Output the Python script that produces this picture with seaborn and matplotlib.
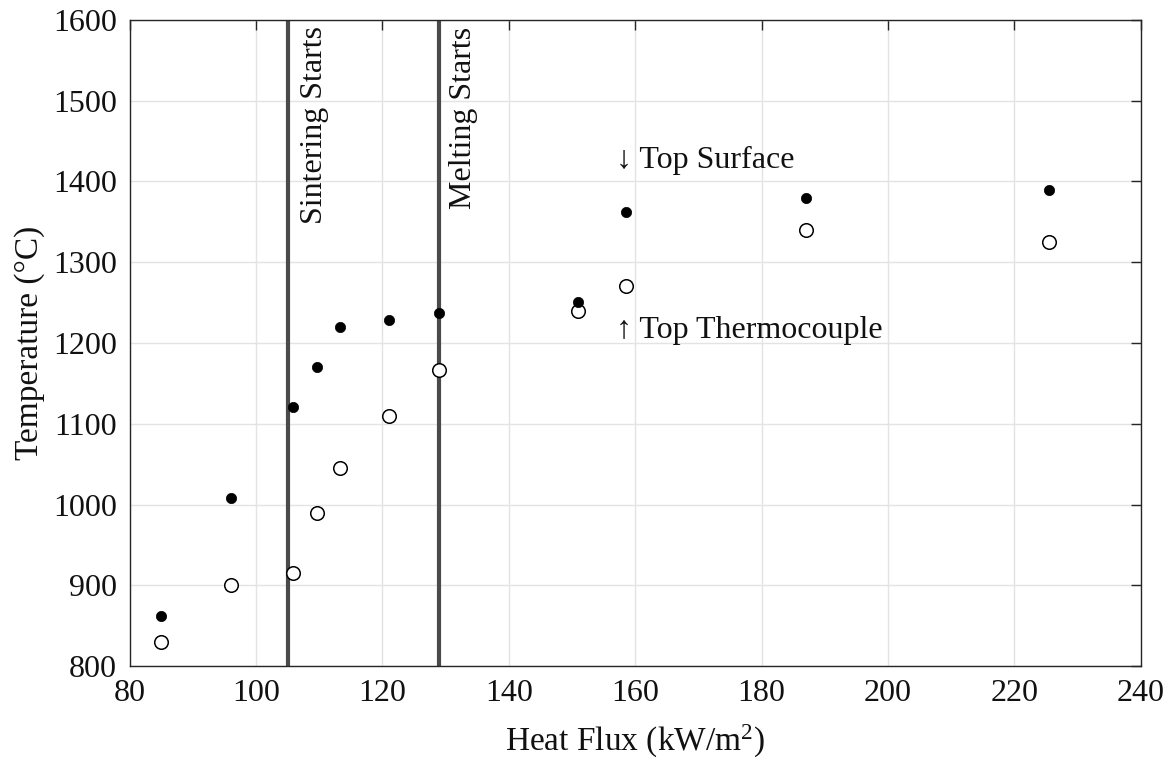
import matplotlib
matplotlib.use("Agg")
import matplotlib.pyplot as plt
import seaborn as sns
import pandas as pd

# Measured temperatures against applied heat flux
heat_flux = [85, 96, 105.8, 109.6, 113.3, 121.1, 129, 151, 158.6, 187, 225.5]
top_surface = [862, 1008, 1121, 1170, 1220, 1229, 1237, 1251, 1362, 1380, 1390]
top_thermocouple = [830, 900, 915, 990, 1045, 1109, 1166, 1240, 1271, 1340, 1325]

# Process thresholds (vertical markers)
sintering_flux = 105
melting_flux = 129

x_ticks = [80, 100, 120, 140, 160, 180, 200, 220, 240]
y_ticks = [800, 900, 1000, 1100, 1200, 1300, 1400, 1500, 1600]

sns.set_theme(style="white")
plt.rcParams["font.family"] = ["Liberation Serif", "DejaVu Serif"]
plt.rcParams["mathtext.fontset"] = "custom"
plt.rcParams["mathtext.rm"] = "Liberation Serif"
plt.rcParams["mathtext.it"] = "Liberation Serif:italic"

df = pd.DataFrame({"flux": heat_flux,
                   "surface": top_surface,
                   "thermo": top_thermocouple})

fig = plt.figure(figsize=(11.7, 7.66), dpi=100)
ax = fig.add_axes([0.1107, 0.1305, 0.8643, 0.8435])

ax.grid(True, color="#e3e3e3", linewidth=1.0, zorder=0)
ax.set_axisbelow(True)

for xv in (sintering_flux, melting_flux):
    ax.axvline(xv, color="#4a4a4a", linewidth=3.0, zorder=2)

sns.scatterplot(data=df, x="flux", y="surface", ax=ax, color="black",
                s=55, edgecolor="black", linewidth=0.5, zorder=4, legend=False)
sns.scatterplot(data=df, x="flux", y="thermo", ax=ax, facecolor="white",
                s=95, edgecolor="black", linewidth=1.1, zorder=3, legend=False)

ax.set_xlim(80, 240)
ax.set_ylim(800, 1600)
ax.set_xticks(x_ticks)
ax.set_yticks(y_ticks)
ax.tick_params(direction="in", length=7, width=1, colors="#262626",
               labelsize=23, top=True, right=True, pad=9,
               labelcolor="#111111")
for sp in ax.spines.values():
    sp.set_color("#262626")
    sp.set_linewidth(1.0)

ax.set_xlabel(r"Heat Flux (kW/m$^2$)", fontsize=24, color="#111111", labelpad=11)
ax.set_ylabel("Temperature (°C)", fontsize=24, color="#111111", labelpad=6)

ax.text(109.2, 1592, "Sintering Starts", rotation=90, ha="center", va="top",
        fontsize=23, color="#111111")
ax.text(132.9, 1592, "Melting Starts", rotation=90, ha="center", va="top",
        fontsize=23, color="#111111")
ax.text(157.0, 1426, "↓ Top Surface", ha="left", va="center",
        fontsize=23, color="#111111")
ax.text(157.0, 1216, "↑ Top Thermocouple", ha="left", va="center",
        fontsize=23, color="#111111")

fig.savefig("out.png", dpi=100)
